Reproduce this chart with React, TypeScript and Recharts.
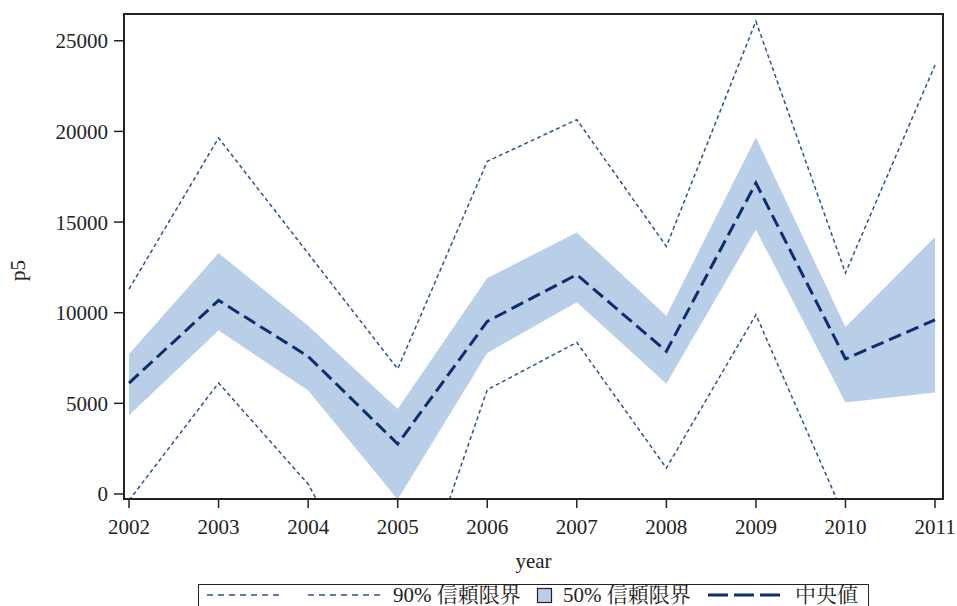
import { ComposedChart, Area, Line, XAxis, YAxis, ReferenceArea, Label } from "recharts";

// values
const years = [2002, 2003, 2004, 2005, 2006, 2007, 2008, 2009, 2010, 2011];
const upper90 = [11300, 19640, 13270, 6900, 18350, 20650, 13660, 26070, 12190, 23660];
const lower90 = [-350, 6120, 550, -8600, 5750, 8360, 1430, 9890, -1380, -4500];
const band50Upper = [7720, 13290, 9280, 4690, 11910, 14430, 9830, 19670, 9210, 14180];
const band50Lower = [4340, 9020, 5710, -300, 7780, 10570, 6080, 14580, 5050, 5600];
const median = [6120, 10680, 7590, 2760, 9520, 12100, 7870, 17150, 7450, 9610];
const yTicks = [0, 5000, 10000, 15000, 20000, 25000];

const chartData = years.map((year, i) => ({
  year,
  upper90: upper90[i],
  lower90: lower90[i],
  band: [band50Lower[i], band50Upper[i]],
  median: median[i],
}));

const FONT = "'Liberation Serif', 'Noto Serif CJK JP', 'Noto Sans CJK JP', serif";
const INK = "#222";
const BAND = "#b9cfe7";
const CI_LINE = "#2a5394";
const MEDIAN_LINE = "#0b2f6e";

const xDomain = [2001.944, 2011.089];
const yDomain = [-276, 26476];

function YLabel({ viewBox }: any) {
  const x = viewBox.x + 25;
  const y = viewBox.y + viewBox.height / 2 + 14;
  return (
    <text x={x} y={y} transform={`rotate(-90 ${x} ${y})`} textAnchor="middle" fill={INK} fontSize={21} fontFamily={FONT}>
      p5
    </text>
  );
}

function ChartLegend() {
  const text = { position: "absolute" as const, top: 583, fontSize: 21, fontFamily: FONT, color: INK, lineHeight: "24px", whiteSpace: "nowrap" as const };
  return (
    <>
      <div style={{ position: "absolute", left: 198, top: 584, width: 669, height: 40, border: `1.5px solid ${INK}`, background: "#fff" }} />
      <svg style={{ position: "absolute", left: 0, top: 584 }} width={957} height={22}>
        <line x1={207} x2={282} y1={11} y2={11} stroke={CI_LINE} strokeWidth={1.5} strokeDasharray="6 5" />
        <line x1={308} x2={382} y1={11} y2={11} stroke={CI_LINE} strokeWidth={1.5} strokeDasharray="6 5" />
        <rect x={537.5} y={4.5} width={14} height={14} fill={BAND} stroke={INK} strokeWidth={1.2} />
        <line x1={708} x2={786} y1={11} y2={11} stroke={MEDIAN_LINE} strokeWidth={3} strokeDasharray="20 6" />
      </svg>
      <span style={{ ...text, left: 393 }}>90% 信頼限界</span>
      <span style={{ ...text, left: 563 }}>50% 信頼限界</span>
      <span style={{ ...text, left: 795 }}>中央値</span>
    </>
  );
}

export default function App() {
  return (
    <div style={{ position: "absolute", left: 0, top: 0, width: 957, height: 606, background: "#fff", overflow: "hidden" }}>
      <ComposedChart width={957} height={606} data={chartData} margin={{ top: 14, right: 14, bottom: 0, left: 0 }}>
        <XAxis
          dataKey="year"
          type="number"
          domain={xDomain}
          allowDataOverflow
          ticks={years}
          interval={0}
          height={107}
          tickSize={9}
          tickMargin={11}
          stroke={INK}
          axisLine={{ stroke: INK, strokeWidth: 2 }}
          tickLine={{ stroke: INK, strokeWidth: 1.5 }}
          tick={{ fill: INK, fontSize: 21, fontFamily: FONT }}
        >
          <Label value="year" position="insideBottom" offset={38} fill={INK} fontSize={21} fontFamily={FONT} />
        </XAxis>
        <YAxis
          type="number"
          domain={yDomain}
          allowDataOverflow
          ticks={yTicks}
          width={124}
          tickSize={10}
          tickMargin={6}
          stroke={INK}
          axisLine={{ stroke: INK, strokeWidth: 2 }}
          tickLine={{ stroke: INK, strokeWidth: 1.5 }}
          tick={{ fill: INK, fontSize: 21, fontFamily: FONT }}
          label={<YLabel />}
        />
        <Area dataKey="band" stroke="none" fill={BAND} fillOpacity={1} isAnimationActive={false} activeDot={false} />
        <Line dataKey="upper90" stroke={CI_LINE} strokeWidth={1.5} strokeDasharray="4 3" dot={false} activeDot={false} isAnimationActive={false} />
        <Line dataKey="lower90" stroke={CI_LINE} strokeWidth={1.5} strokeDasharray="4 3" dot={false} activeDot={false} isAnimationActive={false} />
        <Line dataKey="median" stroke={MEDIAN_LINE} strokeWidth={3} strokeDasharray="13 6" dot={false} activeDot={false} isAnimationActive={false} />
        <ReferenceArea
          x1={xDomain[0]}
          x2={xDomain[1]}
          y1={yDomain[0]}
          y2={yDomain[1]}
          fill="none"
          stroke={INK}
          strokeWidth={2}
          ifOverflow="visible"
        />
      </ComposedChart>
      <ChartLegend />
    </div>
  );
}
